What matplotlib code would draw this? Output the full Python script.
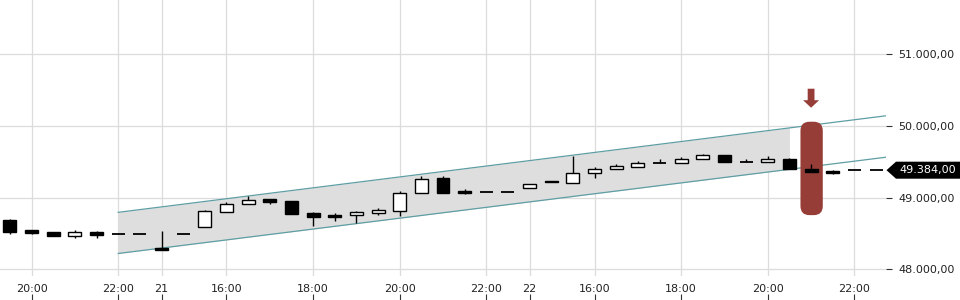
import matplotlib
matplotlib.use("Agg")
import matplotlib.pyplot as plt
import matplotlib.transforms as mtransforms
from matplotlib.patches import Rectangle, FancyBboxPatch, Polygon

# ---- data ----
opens  = [48689, 48550, 48521, 48470, 48521, 48489, 48489, 48300, 48489, 48596,
          48805, 48908, 48982, 48954, 48782, 48763, 48754, 48791, 48819, 49061,
          49275, 49093, 49075, 49075, 49131, 49233, 49201, 49340, 49396, 49424,
          49480, 49480, 49540, 49596, 49494, 49494, 49536, 49396, 49372, 49382, 49384]
highs  = [48703, 48555, 48521, 48549, 48540, 48489, 48489, 48535, 48489, 48830,
          48940, 49028, 48982, 48954, 48800, 48791, 48814, 48856, 49089, 49303,
          49303, 49121, 49075, 49075, 49191, 49233, 49586, 49432, 49470, 49512,
          49536, 49563, 49614, 49596, 49536, 49578, 49550, 49470, 49386, 49382, 49384]
lows   = [48494, 48494, 48460, 48437, 48442, 48489, 48489, 48270, 48489, 48596,
          48805, 48908, 48912, 48773, 48609, 48679, 48651, 48763, 48749, 49061,
          49070, 49056, 49075, 49075, 49131, 49215, 49201, 49270, 49396, 49424,
          49480, 49480, 49540, 49494, 49494, 49494, 49396, 49363, 49326, 49382, 49384]
closes = [48526, 48512, 48470, 48517, 48473, 48489, 48489, 48275, 48489, 48814,
          48912, 48968, 48944, 48773, 48735, 48735, 48800, 48824, 49061, 49256,
          49070, 49070, 49075, 49075, 49191, 49215, 49340, 49400, 49442, 49484,
          49480, 49536, 49596, 49494, 49494, 49536, 49396, 49363, 49349, 49382, 49384]

xtick_pos    = [1, 5, 7, 10, 14, 18, 22, 24, 27, 31, 35, 39]
xtick_labels = ["20:00", "22:00", "21", "16:00", "18:00", "20:00", "22:00", "22",
                "16:00", "18:00", "20:00", "22:00"]
ytick_vals   = [48000, 49000, 50000, 51000]

channel_x      = [5, 40.46]
channel_upper  = [48796, 50143]
channel_lower  = [48222, 49565]
channel_fill_end = 36

marker_index = 37
marker_low, marker_high = 48757, 50060
last_price = 49384

# ---- figure ----
W, H, DPI = 960, 300, 100
fig = plt.figure(figsize=(W / DPI, H / DPI), dpi=DPI)
ax_w_px, ax_h_px = 886, 276
ax = fig.add_axes([0, 1 - ax_h_px / H, ax_w_px / W, ax_h_px / H])
xmin, xmax = -0.46, 40.46
ymin, ymax = 47908, 51758
ax.set_xlim(xmin, xmax)
ax.set_ylim(ymin, ymax)
px_per_x = ax_w_px / (xmax - xmin)
px_per_y = ax_h_px / (ymax - ymin)

for s in ax.spines.values():
    s.set_visible(False)
ax.set_axisbelow(True)
ax.grid(True, color="#dcdcdc", linewidth=0.9)

# channel
def line_at(xs, ys, x):
    return ys[0] + (ys[1] - ys[0]) * (x - xs[0]) / (xs[1] - xs[0])

fx = [channel_x[0], channel_fill_end]
ax.fill_between(fx, [line_at(channel_x, channel_lower, v) for v in fx],
                [line_at(channel_x, channel_upper, v) for v in fx],
                color="#dedede", linewidth=0, zorder=1)
ax.plot(channel_x, channel_upper, color="#5e9ea4", linewidth=0.9, zorder=2)
ax.plot(channel_x, channel_lower, color="#5e9ea4", linewidth=0.9, zorder=2)

# red marker
red = "#973d38"
rad_px = 9
box = FancyBboxPatch((marker_index - 0.49, marker_low), 1.03, marker_high - marker_low,
                     boxstyle=f"round,pad=0,rounding_size={rad_px / px_per_x}",
                     mutation_aspect=px_per_x / px_per_y,
                     facecolor=red, edgecolor="none", zorder=3)
ax.add_patch(box)
# arrow above marker
top = marker_high + 14 / px_per_y + 19 / px_per_y
tip = marker_high + 14 / px_per_y
head_start = tip + 7.5 / px_per_y
sw = 3.4 / px_per_x
hw = 8 / px_per_x
cx = marker_index
arrow = Polygon([(cx - sw, top), (cx + sw, top), (cx + sw, head_start), (cx + hw, head_start),
                 (cx, tip), (cx - hw, head_start), (cx - sw, head_start)],
                closed=True, facecolor=red, edgecolor="none", zorder=3)
ax.add_patch(arrow)

# candles
bw = 0.6
for i, (o, h, l, c) in enumerate(zip(opens, highs, lows, closes)):
    ax.plot([i, i], [l, h], color="black", linewidth=1.0, zorder=4, solid_capstyle="butt")
    if o == c:
        ax.plot([i - bw / 2, i + bw / 2], [o, o], color="black", linewidth=1.3, zorder=5,
                solid_capstyle="butt")
    else:
        face = "white" if c > o else "black"
        ax.add_patch(Rectangle((i - bw / 2, min(o, c)), bw, abs(c - o),
                               facecolor=face, edgecolor="black", linewidth=1.0, zorder=5))

# x ticks
ax.set_xticks(xtick_pos)
ax.set_xticklabels(xtick_labels)
ax.tick_params(axis="x", length=0, pad=5.5, labelsize=8, labelcolor="#222222")
sec = ax.secondary_xaxis(-0.066)
sec.set_xticks(xtick_pos)
sec.tick_params(axis="x", direction="out", length=4.5, width=0.8, color="#333333",
                labelbottom=False)
for s in sec.spines.values():
    s.set_visible(False)

# y ticks
ax.yaxis.tick_right()
ax.set_yticks(ytick_vals)
def fmt(v):
    s = f"{v:,.2f}"
    return s.replace(",", "X").replace(".", ",").replace("X", ".")
ax.set_yticklabels([fmt(v) for v in ytick_vals])
ax.tick_params(axis="y", length=4, width=0.8, color="#333333", pad=5, labelsize=8,
               labelcolor="#222222")

# last price label
tr = mtransforms.blended_transform_factory(fig.transFigure, ax.transData)
hh = 8.5 / px_per_y
poly = Polygon([(886.5 / W, last_price), (896 / W, last_price + hh), (1.0, last_price + hh),
                (1.0, last_price - hh), (896 / W, last_price - hh)],
               closed=True, transform=tr, facecolor="black", edgecolor="none", clip_on=False,
               zorder=6)
fig.add_artist(poly)
fig.text(899 / W, last_price, fmt(last_price), transform=tr, color="white", fontsize=8,
         va="center", ha="left", zorder=7)

fig.savefig("out.png", dpi=DPI)
